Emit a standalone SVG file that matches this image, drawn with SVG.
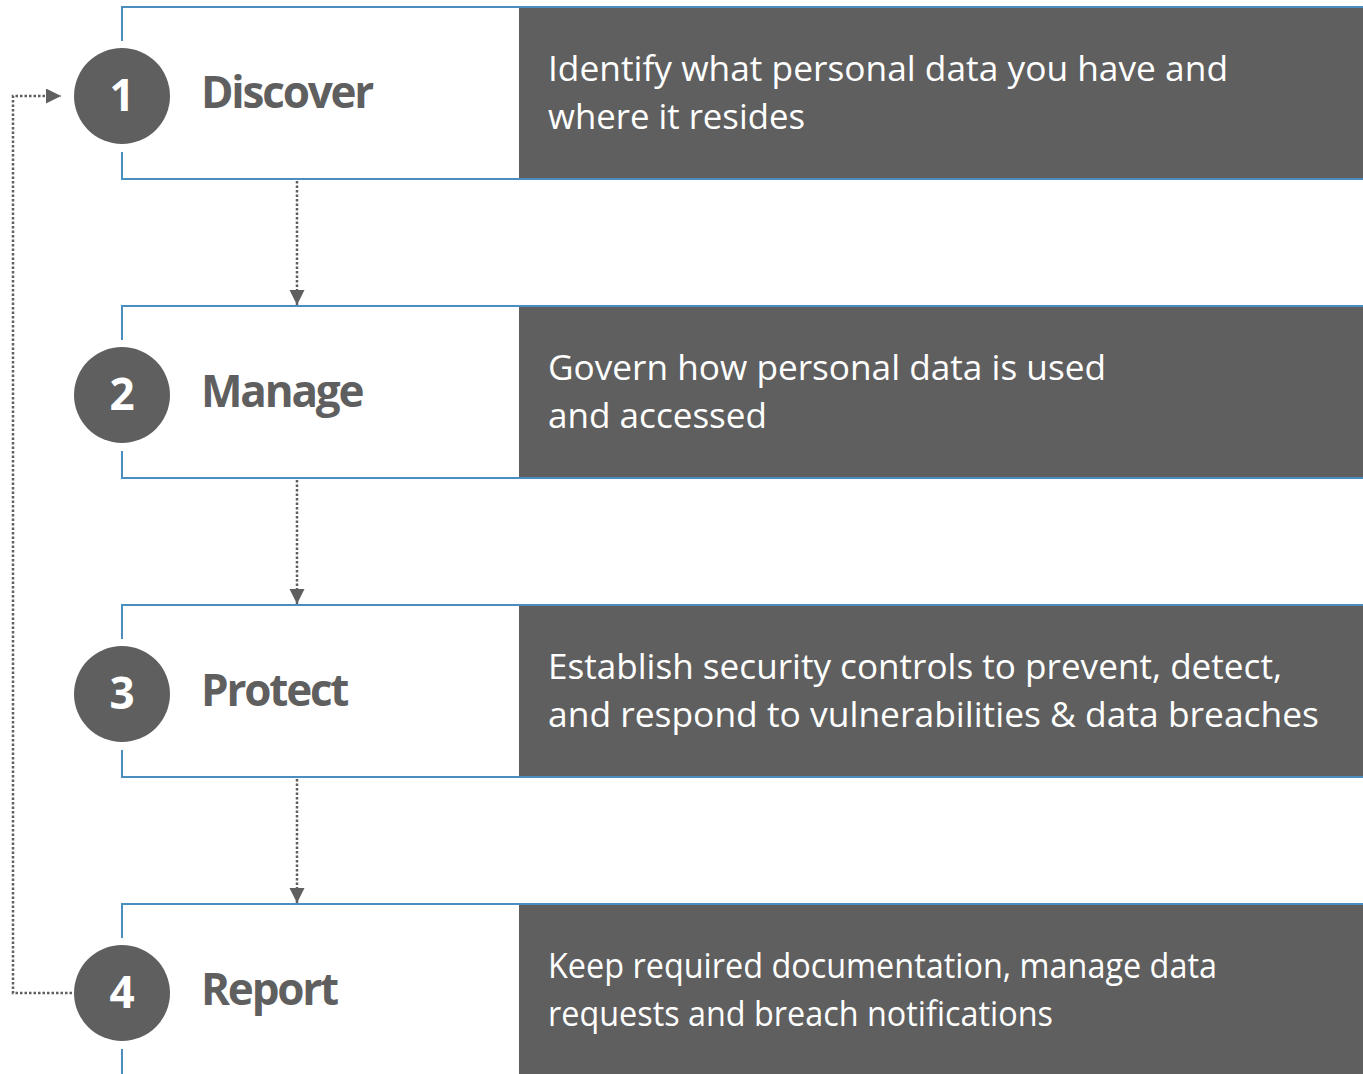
<svg xmlns="http://www.w3.org/2000/svg" width="1363" height="1074" viewBox="0 0 1363 1074">
  <defs>
    <style>
      .box { fill: #ffffff; }
      .dark { fill: #5f5f5f; }
      .border { fill: none; stroke: #4a8dbf; stroke-width: 2; }
      .circ { fill: #5f5f5f; }
      .num { font-family: "Open Sans", "Liberation Sans", sans-serif; font-weight: 700; font-size: 44px; fill: #ffffff; text-anchor: middle; }
      .title { font-family: "Open Sans", "Liberation Sans", sans-serif; font-weight: 700; font-size: 44px; fill: #5f5f5f; letter-spacing: -2.2px; }
      .desc { font-family: "Open Sans", "Liberation Sans", sans-serif; font-weight: 400; font-size: 35px; fill: #ffffff; }
      .conn { fill: none; stroke: #5f5f5f; stroke-width: 2.5; stroke-dasharray: 2.5 2; }
    </style>
    <marker id="arrow" markerUnits="userSpaceOnUse" markerWidth="16" markerHeight="16" refX="15" refY="7.5" orient="auto">
      <path d="M0,0 L15,7.5 L0,15 Z" fill="#5f5f5f"/>
    </marker>
  </defs>

  <rect x="0" y="0" width="1363" height="1074" fill="#ffffff"/>

  <g id="node-discover">
    <rect class="box" x="122" y="7" width="397" height="172"/>
    <rect class="dark" x="519" y="7" width="844" height="172"/>
    <path class="border" d="M122,41 V7 H1363 M122,152 V179 H1363"/>
    <circle class="circ" cx="122" cy="96" r="48"/>
    <text class="num" x="122" y="111">1</text>
    <text class="title" x="201" y="108">Discover</text>
    <text class="desc" x="548" y="81" textLength="680" lengthAdjust="spacingAndGlyphs">Identify what personal data you have and</text>
    <text class="desc" x="548" y="129" textLength="257" lengthAdjust="spacingAndGlyphs">where it resides</text>
  </g>

  <g id="node-manage">
    <rect class="box" x="122" y="306" width="397" height="172"/>
    <rect class="dark" x="519" y="306" width="844" height="172"/>
    <path class="border" d="M122,340 V306 H1363 M122,451 V478 H1363"/>
    <circle class="circ" cx="122" cy="395" r="48"/>
    <text class="num" x="122" y="410">2</text>
    <text class="title" x="201" y="407">Manage</text>
    <text class="desc" x="548" y="380" textLength="558" lengthAdjust="spacingAndGlyphs">Govern how personal data is used</text>
    <text class="desc" x="548" y="428" textLength="219" lengthAdjust="spacingAndGlyphs">and accessed</text>
  </g>

  <g id="node-protect">
    <rect class="box" x="122" y="605" width="397" height="172"/>
    <rect class="dark" x="519" y="605" width="844" height="172"/>
    <path class="border" d="M122,639 V605 H1363 M122,750 V777 H1363"/>
    <circle class="circ" cx="122" cy="694" r="48"/>
    <text class="num" x="122" y="709">3</text>
    <text class="title" x="201" y="706">Protect</text>
    <text class="desc" x="548" y="679" textLength="734" lengthAdjust="spacingAndGlyphs">Establish security controls to prevent, detect,</text>
    <text class="desc" x="548" y="727" textLength="771" lengthAdjust="spacingAndGlyphs">and respond to vulnerabilities &amp; data breaches</text>
  </g>

  <g id="node-report">
    <rect class="box" x="122" y="904" width="397" height="170"/>
    <rect class="dark" x="519" y="904" width="844" height="170"/>
    <path class="border" d="M122,938 V904 H1363 M122,1049 V1074"/>
    <circle class="circ" cx="122" cy="993" r="48"/>
    <text class="num" x="122" y="1008">4</text>
    <text class="title" x="201" y="1005">Report</text>
    <text class="desc" x="548" y="978" textLength="669" lengthAdjust="spacingAndGlyphs">Keep required documentation, manage data</text>
    <text class="desc" x="548" y="1026" textLength="505" lengthAdjust="spacingAndGlyphs">requests and breach notifications</text>
  </g>

  <g id="connectors">
    <path class="conn" d="M297,181 V305" marker-end="url(#arrow)"/>
    <path class="conn" d="M297,480 V604" marker-end="url(#arrow)"/>
    <path class="conn" d="M297,779 V903" marker-end="url(#arrow)"/>
    <path class="conn" d="M72,993 H13 V96 H61" marker-end="url(#arrow)"/>
  </g>
</svg>
